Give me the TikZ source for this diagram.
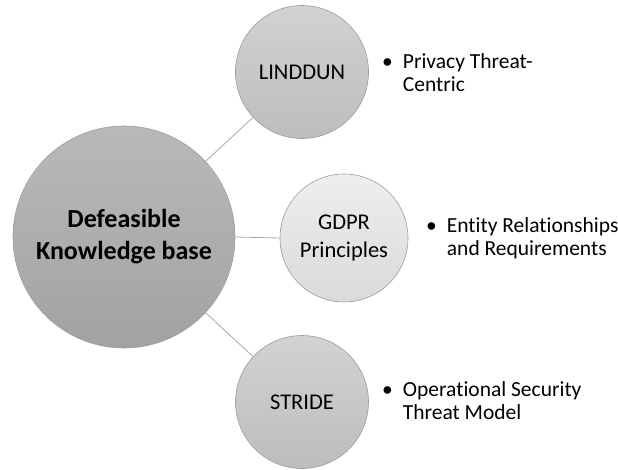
\documentclass[tikz,border=0pt]{standalone}
\usepackage{fontspec}
\setmainfont[Ligatures={NoCommon}]{Carlito}
\definecolor{bigtop}{HTML}{B9B9B9}
\definecolor{bigbot}{HTML}{A2A2A2}
\definecolor{midtop}{HTML}{D2D2D2}
\definecolor{midbot}{HTML}{BDBDBD}
\definecolor{lighttop}{HTML}{EEEEEE}
\definecolor{lightbot}{HTML}{DADADA}
\definecolor{edge}{HTML}{9C9C9C}
\definecolor{conn}{HTML}{A8A8A8}
\tikzset{
  bigcirc/.style={circle, draw=edge, line width=0.6pt, top color=bigtop, bottom color=bigbot,
    minimum size=222pt, inner sep=0pt, align=center, font=\fontsize{26}{32}\selectfont\bfseries},
  midcirc/.style={circle, draw=edge, line width=0.6pt, top color=midtop, bottom color=midbot,
    minimum size=133pt, inner sep=0pt, align=center, font=\fontsize{22.5}{28}\selectfont},
  lightcirc/.style={midcirc, top color=lighttop, bottom color=lightbot, minimum size=128pt},
  conline/.style={draw=conn, line width=0.8pt},
  bullettext/.style={anchor=west, inner sep=0pt, font=\fontsize{21.5}{23}\selectfont}
}
\begin{document}
\begin{tikzpicture}[x=1pt,y=-1pt]
\useasboundingbox (0,0) rectangle (618,470);
\node[bigcirc] (kb) at (124,237) {Defeasible\\Knowledge base};
\node[midcirc] (lind) at (302,72) {LINDDUN};
\node[lightcirc] (gdpr) at (344,238) {GDPR\\Principles};
\node[midcirc] (stride) at (302,402) {STRIDE};
\draw[conline] (kb) -- (lind);
\draw[conline] (kb.east) -- (gdpr.west);
\draw[conline] (kb) -- (stride);
\node[bullettext] (t1) at (382,75) {\begin{tabular}{@{}l@{\hspace{10pt}}l@{}}\textbullet & Privacy Threat-\\ & Centric\end{tabular}};
\node[bullettext] (t2) at (426,239) {\begin{tabular}{@{}l@{\hspace{10pt}}l@{}}\textbullet & Entity Relationships\\ & and Requirements\end{tabular}};
\node[bullettext] (t3) at (382,403) {\begin{tabular}{@{}l@{\hspace{10pt}}l@{}}\textbullet & Operational Security\\ & Threat Model\end{tabular}};
\end{tikzpicture}
\end{document}
